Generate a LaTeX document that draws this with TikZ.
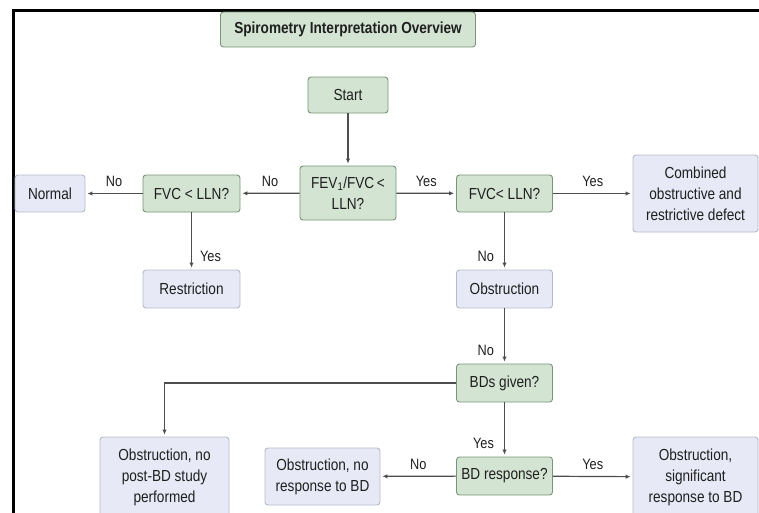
\documentclass[tikz,border=0pt]{standalone}
\usepackage{fontspec}
\setmainfont{Liberation Sans}[FakeStretch=0.85]
\usetikzlibrary{arrows.meta}
\definecolor{grnfill}{HTML}{D4E4D2}
\definecolor{grnline}{HTML}{7A9478}
\definecolor{blufill}{HTML}{E7EAF6}
\definecolor{bluline}{HTML}{B4BACB}
\definecolor{arrline}{HTML}{4D4D4D}
\begin{document}
\begin{tikzpicture}[x=1pt,y=-1pt]
	\tikzset{
		box/.style={rounded corners=3pt,line width=0.9pt,align=center,inner sep=0pt,text=black!88,font=\fontsize{16}{21}\selectfont},
		gbox/.style={box,draw=grnline,fill=grnfill},
		bbox/.style={box,draw=bluline,fill=blufill},
		arr/.style={draw=arrline,line width=1.2pt,-{Latex[length=5pt,width=4.5pt]},shorten >=2pt},
		lab/.style={font=\fontsize{15}{18}\selectfont,text=black!88,inner sep=1pt,text depth=0pt},
		hlab/.style={lab,midway,above=5pt},
		llab/.style={lab,pos=0.76,left=9pt},
		rlab/.style={lab,pos=0.76,right=7pt}
	}
	\useasboundingbox (0,0) rectangle (759,512);
	\clip (0,0) rectangle (759,512);
	% frame
	\draw[line width=3pt] (13.5,530)--(13.5,10.5)--(780,10.5);
	% boxes
	\node[gbox,minimum width=255,minimum height=35,font=\bfseries\fontsize{16}{21}\selectfont] (title) at (348,29.5) {Spirometry Interpretation Overview};
	\node[gbox,minimum width=80,minimum height=36] (start) at (348,95) {Start};
	\node[gbox,minimum width=96,minimum height=54] (fev) at (348,193) {FEV\textsubscript{1}/FVC\,<\\LLN?};
	\node[gbox,minimum width=97,minimum height=37] (fvcl) at (191.5,193.5) {FVC < LLN?};
	\node[bbox,minimum width=70,minimum height=37] (normal) at (50,193.5) {Normal};
	\node[gbox,minimum width=96,minimum height=37] (fvcr) at (504.5,193.5) {FVC< LLN?};
	\node[bbox,minimum width=125,minimum height=77] (comb) at (695.5,193.5) {Combined\\obstructive and\\restrictive defect};
	\node[bbox,minimum width=97,minimum height=38] (restr) at (191.5,289) {Restriction};
	\node[bbox,minimum width=96,minimum height=38] (obst) at (504.5,289) {Obstruction};
	\node[gbox,minimum width=96,minimum height=38] (bds) at (504.5,383) {BDs given?};
	\node[gbox,minimum width=96,minimum height=38] (resp) at (504.5,476) {BD response?};
	\node[bbox,minimum width=115,minimum height=57] (noresp) at (322.5,476.5) {Obstruction, no\\response to BD};
	\node[bbox,minimum width=125,minimum height=80] (sig) at (695.5,477) {Obstruction,\\significant\\response to BD};
	\node[bbox,minimum width=129,minimum height=80] (post) at (164.5,477) {Obstruction, no\\post-BD study\\performed};
	% connectors
	\draw[arr] (start) -- (fev);
	\draw[arr] (fev) -- node[hlab]{No} (fvcl);
	\draw[arr] (fvcl) -- node[hlab]{No} (normal);
	\draw[arr] (fev) -- node[hlab]{Yes} (fvcr);
	\draw[arr] (fvcr) -- node[hlab]{Yes} (comb);
	\draw[arr] (fvcl) -- node[rlab]{Yes} (restr);
	\draw[arr] (fvcr) -- node[llab]{No} (obst);
	\draw[arr] (obst) -- node[llab]{No} (bds);
	\draw[arr] (bds.west) -| (post.north);
	\draw[arr] (bds) -- node[llab]{Yes} (resp);
	\draw[arr] (resp) -- node[hlab]{No} (noresp);
	\draw[arr] (resp) -- node[hlab]{Yes} (sig);
\end{tikzpicture}
\end{document}
